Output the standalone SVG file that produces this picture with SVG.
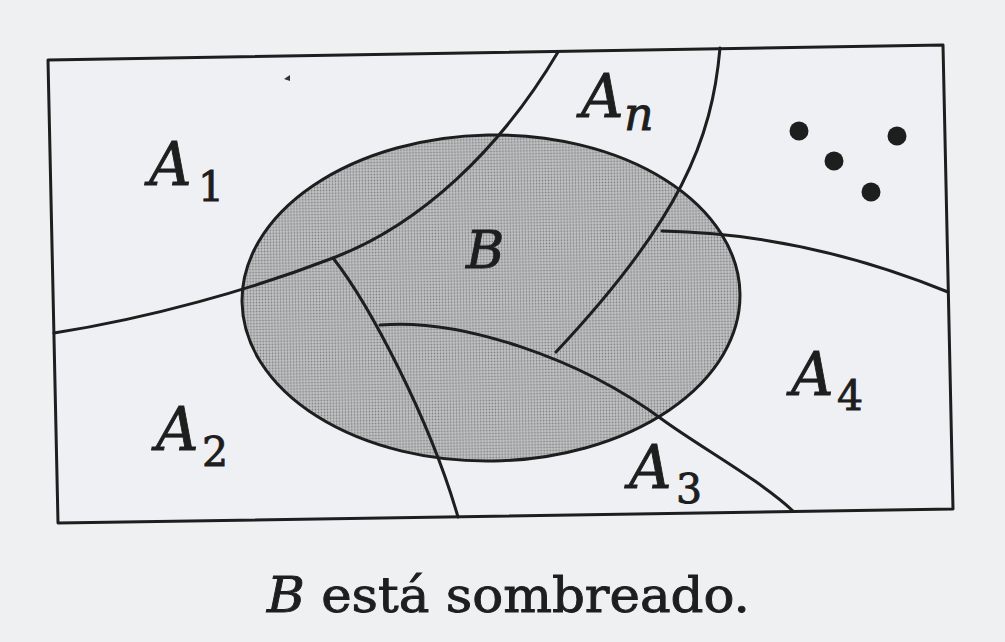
<svg xmlns="http://www.w3.org/2000/svg" width="1005" height="642" viewBox="0 0 1005 642">
  <defs>
    <pattern id="halftone" width="3" height="3" patternUnits="userSpaceOnUse">
      <rect width="3" height="3" fill="#c3c4c6"/>
      <circle cx="1.5" cy="1.5" r="0.9" fill="#7d7e80"/>
    </pattern>
  </defs>
  <style>
    .ln { fill: none; stroke: #1e1e1e; stroke-width: 3; stroke-linejoin: round; stroke-linecap: round; }
    .lbl { font-family: "DejaVu Serif", "Liberation Serif", serif; fill: #1e1e1e; stroke: #1e1e1e; stroke-width: 0.9; }
    .it { font-style: italic; }
    .big { font-size: 59px; }
    .sub { font-size: 41px; }
    .dot { fill: #1e1e1e; }
  </style>
  <rect x="0" y="0" width="1005" height="642" fill="#eff0f2"/>
  <g id="universe">
    <polygon points="48,60 943,45 953,509 58,523" fill="#eef0f3"/>
  </g>
  <g id="set-B">
    <ellipse cx="491" cy="298" rx="249" ry="163" transform="rotate(-1 491 298)" fill="url(#halftone)"/>
  </g>
  <g id="connectors">
    <path class="ln" d="M54,333 C150,318 250,290 333,258 C420,225 500,150 558,52"/>
    <path class="ln" d="M333,258 C370,305 430,420 458,517"/>
    <path class="ln" d="M380,325 C460,318 580,358 663,420 C700,447 760,480 793,511"/>
    <path class="ln" d="M720,48 C712,140 680,220 556,352"/>
    <path class="ln" d="M662,231 C720,232 820,240 948,292"/>
  </g>
  <g id="outlines">
    <ellipse class="ln" cx="491" cy="298" rx="249" ry="163" transform="rotate(-1 491 298)"/>
    <polygon class="ln" points="48,60 943,45 953,509 58,523"/>
  </g>
  <g id="label-A1"><text class="lbl" x="149" y="185"><tspan class="it big">A</tspan><tspan class="sub" x="198" y="201">1</tspan></text></g>
  <g id="label-A2"><text class="lbl" x="156" y="450"><tspan class="it big">A</tspan><tspan class="sub" x="202" y="466">2</tspan></text></g>
  <g id="label-An"><text class="lbl" x="581" y="117"><tspan class="it big">A</tspan><tspan class="it" style="font-size:46px" x="624" y="130">n</tspan></text></g>
  <g id="label-A3"><text class="lbl" x="629" y="488"><tspan class="it big">A</tspan><tspan class="sub" x="676" y="503">3</tspan></text></g>
  <g id="label-A4"><text class="lbl" x="791" y="395"><tspan class="it big">A</tspan><tspan class="sub" x="837" y="410">4</tspan></text></g>
  <g id="label-B"><text class="lbl it" x="466" y="268" style="font-size:52px">B</text></g>
  <g id="ellipsis-dots">
    <circle class="dot" cx="799" cy="131" r="9.5"/>
    <circle class="dot" cx="897" cy="136" r="9.5"/>
    <circle class="dot" cx="834" cy="161" r="9.5"/>
    <circle class="dot" cx="871" cy="192" r="9.5"/>
  </g>
  <polygon points="284,79 290,75 290,81" fill="#333"/>
  <g id="caption"><text class="lbl" x="267" y="612" style="font-size:48px" textLength="483" lengthAdjust="spacingAndGlyphs"><tspan class="it">B</tspan> está sombreado.</text></g>
</svg>
